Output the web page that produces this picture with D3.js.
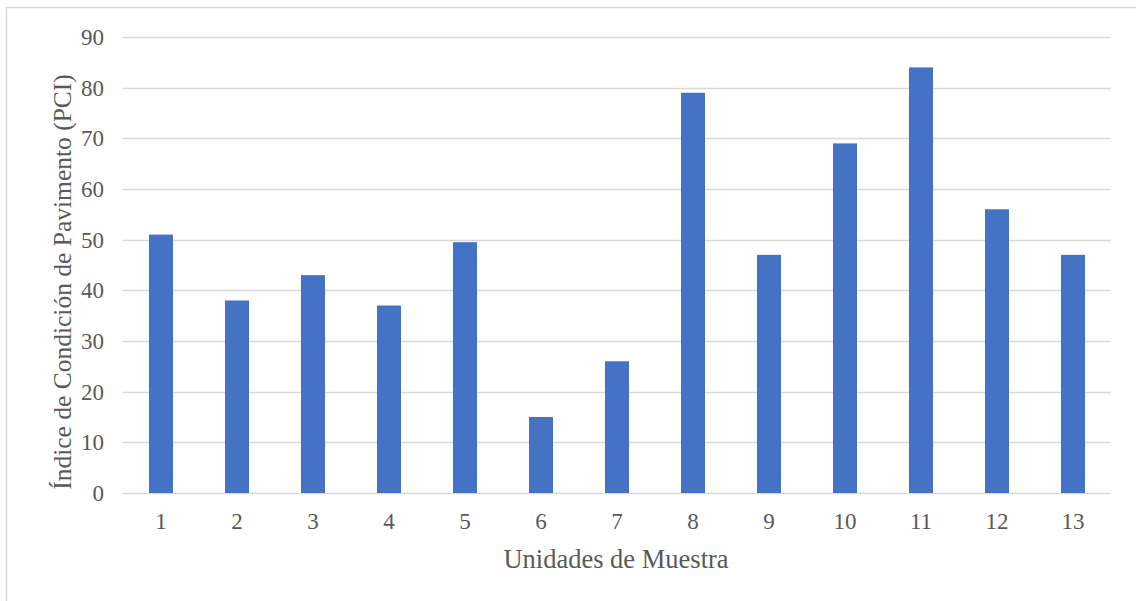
<!DOCTYPE html>
<html>
<head>
<meta charset="utf-8">
<script src="https://cdn.jsdelivr.net/npm/d3@7"></script>
<style>
  html, body { margin: 0; padding: 0; background: #fff; }
  svg { display: block; }
  text { font-family: "Liberation Serif", "Times New Roman", serif; fill: #595959; }
</style>
</head>
<body>
<svg id="chart" width="1136" height="601"></svg>
<script>
// Sample units and their pavement condition index
const categories = ["1", "2", "3", "4", "5", "6", "7", "8", "9", "10", "11", "12", "13"];
const pciValues = [51, 38, 43, 37, 49.5, 15, 26, 79, 47, 69, 84, 56, 47];
const yTicks = [0, 10, 20, 30, 40, 50, 60, 70, 80, 90];

const svg = d3.select("#chart");
const W = 1136, H = 601;
const margin = { left: 123, right: 25, top: 37, bottom: 108 };
const plotW = W - margin.left - margin.right;
const plotH = H - margin.top - margin.bottom;

// Chart area border
svg.append("rect")
  .attr("x", 6.5).attr("y", 7.5)
  .attr("width", W + 10).attr("height", H + 10)
  .attr("fill", "#fff")
  .attr("stroke", "#d9d9d9").attr("stroke-width", 1.5);

const x = d3.scaleBand().domain(categories).range([0, plotW]).paddingInner(0.684).paddingOuter(0.342);
const y = d3.scaleLinear().domain([0, 90]).range([plotH, 0]);

const g = svg.append("g").attr("transform", `translate(${margin.left},${margin.top})`);

// Horizontal gridlines
g.append("g")
  .selectAll("line")
  .data(yTicks)
  .join("line")
  .attr("x1", 0).attr("x2", plotW)
  .attr("y1", d => Math.round(y(d)) + 0.5).attr("y2", d => Math.round(y(d)) + 0.5)
  .attr("stroke", "#d9d9d9").attr("stroke-width", 1.5);

// Bars
g.append("g")
  .selectAll("rect")
  .data(pciValues)
  .join("rect")
  .attr("x", (d, i) => x(categories[i]))
  .attr("y", d => y(d))
  .attr("width", x.bandwidth())
  .attr("height", d => plotH - y(d))
  .attr("fill", "#4472c4");

// Y axis labels
const yAxis = d3.axisLeft(y).tickValues(yTicks).tickSize(0).tickPadding(19);
const yAx = g.append("g").call(yAxis);
yAx.select(".domain").remove();
yAx.selectAll("text").attr("font-size", 23).style("font-family", "Liberation Serif").attr("fill", "#595959");

// X axis labels
const xAxis = d3.axisBottom(x).tickSize(0);
const xAx = g.append("g").attr("transform", `translate(0,${plotH})`).call(xAxis);
xAx.select(".domain").remove();
xAx.selectAll("text").attr("y", 36).attr("dy", 0)
  .attr("font-size", 23).style("font-family", "Liberation Serif").attr("fill", "#595959");

// Axis titles
svg.append("text")
  .attr("x", margin.left + plotW / 2 - 1)
  .attr("y", 568)
  .attr("text-anchor", "middle")
  .attr("font-size", 26.5)
  .text("Unidades de Muestra");

svg.append("text")
  .attr("transform", `translate(71,282) rotate(-90)`)
  .attr("text-anchor", "middle")
  .attr("font-size", 25.5)
  .text("Índice de Condición de Pavimento (PCI)");
</script>
</body>
</html>
